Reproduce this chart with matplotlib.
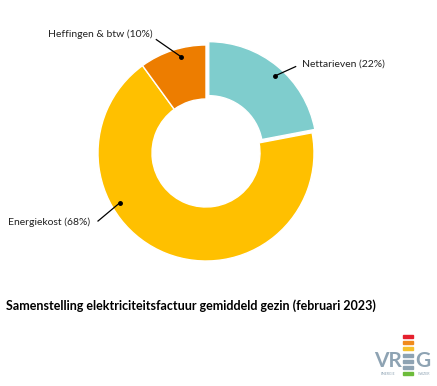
import numpy as np
import matplotlib.pyplot as plt
from matplotlib.patches import Rectangle

labels = ["Nettarieven", "Energiekost", "Heffingen & btw"]
values = [22, 68, 10]
colors = ["#7fcdcd", "#ffc000", "#ed7d00"]
explode = [0.04, 0, 0]

title = "Samenstelling elektriciteitsfactuur gemiddeld gezin (februari 2023)"

plt.rcParams['font.family'] = ['Lato', 'DejaVu Sans']

W, H = 437, 386
fig = plt.figure(figsize=(W / 100, H / 100), dpi=100)

# pie axes centred at (206, 153) px, radius 108 px
cx, cy, r = 206, 153, 108
half = 1.25 * r
ax = fig.add_axes([(cx - half) / W, (H - cy - half) / H, 2 * half / W, 2 * half / H])
ax.set_xlim(-1.25, 1.25)
ax.set_ylim(-1.25, 1.25)
ax.set_aspect('equal')
ax.axis('off')

wedges, _ = ax.pie(values, colors=colors, startangle=90, counterclock=False,
                   explode=explode, radius=1.0,
                   wedgeprops=dict(width=0.5, edgecolor='white', linewidth=1.0))

# label text positions and dot angles
text_pos = [(0.89, 0.82, 'left'), (-1.07, -0.64, 'right'), (-0.98, 1.10, 'center')]
line_start = [(0.83, 0.80), (-1.0, -0.63), (-0.46, 1.05)]
dot_angle = [48, 210, 104.5]

for i, lab in enumerate(labels):
    a = np.deg2rad(dot_angle[i])
    w = wedges[i]
    ox, oy = w.center
    px, py = ox + 0.92 * np.cos(a), oy + 0.92 * np.sin(a)
    tx, ty, ha = text_pos[i]
    ax.text(tx, ty, f"{lab} ({values[i]}%)", ha=ha, va='center', fontsize=7.5, color='#222222')
    sx, sy = line_start[i]
    ax.plot([sx, px], [sy, py], color='black', lw=0.9, clip_on=False)
    ax.plot([px], [py], 'o', color='black', ms=2.5, clip_on=False)

fig.text(6 / W, 1 - 306 / H, title, fontsize=9.0, fontweight='bold', va='center', ha='left', color='black')

# VREG logo
grey = '#8ea3b3'
fig.text(374 / W, 1 - 361 / H, "VR", fontsize=15, fontweight='bold', color=grey, va='center', ha='left')
fig.text(415 / W, 1 - 361 / H, "G", fontsize=15, fontweight='bold', color=grey, va='center', ha='left')
for yy, c in [(336, '#e5202e'), (342, '#f08a1c'), (348, '#f6c12b'),
              (355, grey), (361, grey), (367, grey), (373, '#6dbb3b')]:
    fig.patches.append(Rectangle((403 / W, 1 - (yy + 1.5) / H), 10 / W, 3 / H,
                                 transform=fig.transFigure, color=c))
fig.text(388 / W, 1 - 374 / H, "ENERGIE", fontsize=2.5, color=grey, ha='center', va='center')
fig.text(424 / W, 1 - 374 / H, "WIJZER", fontsize=2.5, color=grey, ha='center', va='center')

fig.savefig('out.png', dpi=100, facecolor='white')
